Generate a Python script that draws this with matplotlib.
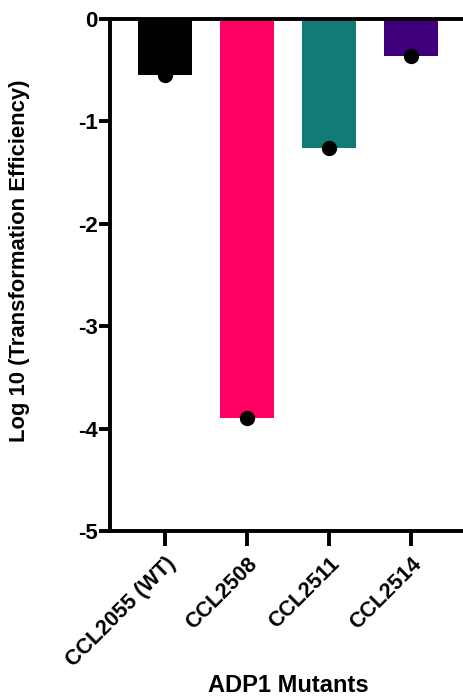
import matplotlib.pyplot as plt

plt.rcParams['font.family'] = ['Liberation Sans', 'DejaVu Sans']
plt.rcParams['font.weight'] = 'bold'

strains = ['CCL2055 (WT)', 'CCL2508', 'CCL2511', 'CCL2514']
log_eff = [-0.55, -3.90, -1.26, -0.365]
bar_colors = ['#000000', '#FF0064', '#127A77', '#40007E']

fig = plt.figure(figsize=(4.64, 6.96), dpi=100)
ax = fig.add_axes([110 / 464, 1 - 531 / 696, 356 / 464, 512.5 / 696])

xs = list(range(len(strains)))
ax.bar(xs, log_eff, width=0.66, color=bar_colors, zorder=2)
ax.plot(xs, log_eff, 'o', color='black', markersize=10, zorder=3, clip_on=False)

ax.set_xlim(-0.67, 3.67)
ax.set_ylim(-5, 0)
ax.set_yticks([0, -1, -2, -3, -4, -5])
ax.set_yticklabels(['0', '-1', '-2', '-3', '-4', '-5'])
ax.set_xticks(xs)
ax.set_xticklabels(strains, rotation=45, ha='right', va='top',
                   rotation_mode='anchor')

for side in ('left', 'top', 'bottom'):
    ax.spines[side].set_linewidth(2.8)
ax.spines['right'].set_visible(False)
ax.tick_params(axis='y', length=8, width=2.8, labelsize=16, pad=1)
ax.tick_params(axis='x', length=11, width=2.8, labelsize=15.5, pad=5)

fig.text(20 / 464, 1 - 261 / 696, 'Log 10 (Transformation Efficiency)',
         rotation=90, ha='center', va='center', fontsize=15.8,
         fontweight='bold')
fig.text(288 / 464, 1 - 685 / 696, 'ADP1 Mutants', ha='center', va='center',
         fontsize=17, fontweight='bold')

fig.savefig('out.png', dpi=100, facecolor='white')
